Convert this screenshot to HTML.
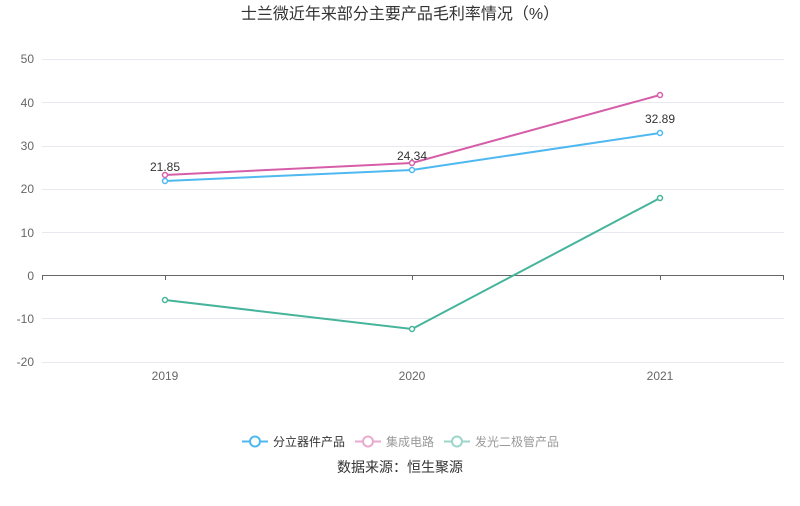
<!DOCTYPE html><html><head><meta charset="utf-8"><style>body{margin:0;background:#fff}svg text{font-family:"Liberation Sans","Noto Sans CJK SC",sans-serif}</style></head><body>
<svg width="800" height="501" xmlns="http://www.w3.org/2000/svg">
<text x="400" y="19" font-size="16" text-anchor="middle" fill="#333">士兰微近年来部分主要产品毛利率情况（%）</text>
<g stroke="#e6e9ef" stroke-width="1">
<line x1="42" x2="784" y1="59.5" y2="59.5"/><line x1="42" x2="784" y1="102.5" y2="102.5"/><line x1="42" x2="784" y1="146.5" y2="146.5"/><line x1="42" x2="784" y1="189.5" y2="189.5"/><line x1="42" x2="784" y1="232.5" y2="232.5"/><line x1="42" x2="784" y1="318.5" y2="318.5"/><line x1="42" x2="784" y1="362.5" y2="362.5"/>
</g>
<line x1="42" x2="784" y1="275.5" y2="275.5" stroke="#666"/>
<g stroke="#666"><line x1="165.5" x2="165.5" y1="275" y2="280"/><line x1="412.5" x2="412.5" y1="275" y2="280"/><line x1="660.5" x2="660.5" y1="275" y2="280"/><line x1="42.5" x2="42.5" y1="275" y2="280"/><line x1="783.5" x2="783.5" y1="275" y2="280"/></g>
<g font-size="12" fill="#666" text-anchor="end">
<text x="34" y="63">50</text><text x="34" y="107">40</text><text x="34" y="150">30</text><text x="34" y="193">20</text><text x="34" y="237">10</text><text x="34" y="280">0</text><text x="34" y="323">-10</text><text x="34" y="366">-20</text></g>
<g font-size="12" fill="#666" text-anchor="middle"><text x="165" y="380">2019</text><text x="412" y="380">2020</text><text x="660" y="380">2021</text></g>
<polyline points="165,175 412,163 660,95" fill="none" stroke="#d65ea9" stroke-width="2"/>
<polyline points="165,181 412,170 660,133" fill="none" stroke="#4fb8f0" stroke-width="2"/>
<polyline points="165,300 412,329 660,198" fill="none" stroke="#46b49b" stroke-width="2"/>
<g fill="#fff" stroke-width="1.5">
<g stroke="#d65ea9"><circle cx="165" cy="175" r="2.5"/><circle cx="412" cy="163" r="2.5"/><circle cx="660" cy="95" r="2.5"/></g>
<g stroke="#4fb8f0"><circle cx="165" cy="181" r="2.5"/><circle cx="412" cy="170" r="2.5"/><circle cx="660" cy="133" r="2.5"/></g>
<g stroke="#46b49b"><circle cx="165" cy="300" r="2.5"/><circle cx="412" cy="329" r="2.5"/><circle cx="660" cy="198" r="2.5"/></g></g>
<g font-size="12" fill="#333" text-anchor="middle"><text x="165" y="171">21.85</text><text x="412" y="160">24.34</text><text x="660" y="123">32.89</text></g>
<g font-size="12">
<line x1="242" x2="268" y1="441.5" y2="441.5" stroke="#4fb8f0" stroke-width="2"/><circle cx="255" cy="441.5" r="5" fill="#fff" stroke="#4fb8f0" stroke-width="2"/><text x="273" y="446" fill="#333">分立器件产品</text>
<line x1="355" x2="381" y1="441.5" y2="441.5" stroke="#eaa9cf" stroke-width="2"/><circle cx="368" cy="441.5" r="5" fill="#fff" stroke="#eaa9cf" stroke-width="2"/><text x="386" y="446" fill="#999">集成电路</text>
<line x1="444" x2="470" y1="441.5" y2="441.5" stroke="#9dd6c9" stroke-width="2"/><circle cx="457" cy="441.5" r="5" fill="#fff" stroke="#9dd6c9" stroke-width="2"/><text x="475" y="446" fill="#999">发光二极管产品</text>
</g>
<text x="400" y="472" font-size="14" fill="#333" text-anchor="middle">数据来源：恒生聚源</text>
</svg></body></html>
